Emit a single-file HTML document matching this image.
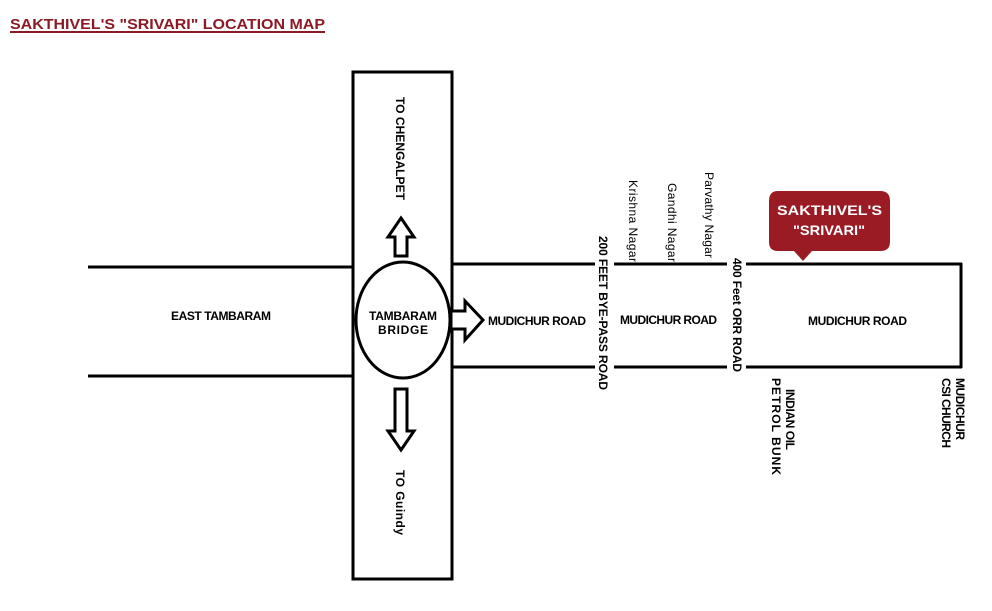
<!DOCTYPE html>
<html><head><meta charset="utf-8"><style>
html,body{margin:0;padding:0;background:#fff;}
svg{display:block;font-family:"Liberation Sans",Arial,sans-serif;font-weight:bold;}
</style></head><body>
<svg width="992" height="611" viewBox="0 0 992 611" xmlns="http://www.w3.org/2000/svg">
<rect width="992" height="611" fill="#fff"/>
<text x="10" y="29" font-size="15" fill="#8b1a26" textLength="315" lengthAdjust="spacingAndGlyphs">SAKTHIVEL'S "SRIVARI" LOCATION MAP</text>
<line x1="10" y1="32" x2="325" y2="32" stroke="#8b1a26" stroke-width="2"/>
<g stroke="#000" stroke-width="3" fill="none">
<rect x="353" y="72" width="99" height="507"/>
<line x1="88" y1="267" x2="353" y2="267"/>
<line x1="88" y1="376" x2="353" y2="376"/>
<line x1="453" y1="264" x2="595" y2="264"/>
<line x1="614" y1="264" x2="727" y2="264"/>
<line x1="746" y1="264" x2="962" y2="264"/>
<line x1="453" y1="367" x2="595" y2="367"/>
<line x1="614" y1="367" x2="727" y2="367"/>
<line x1="746" y1="367" x2="962" y2="367"/>
<line x1="961" y1="263" x2="961" y2="368"/>
</g>
<ellipse cx="403" cy="320" rx="47" ry="58" fill="#fff" stroke="#000" stroke-width="3"/>
<g fill="#fff" stroke="#000" stroke-width="3" stroke-linejoin="miter">
<polygon points="401,218 414,237 407,237 407,256 395,256 395,237 388,237"/>
<polygon points="401,450 414,431 407,431 407,389 395,389 395,431 388,431"/>
<polygon points="483,320 465,301 465,311 451,311 451,329 465,329 465,340"/>
</g>
<g font-size="12" text-anchor="start" lengthAdjust="spacingAndGlyphs">
<text x="369" y="320" textLength="68">TAMBARAM</text>
<text x="378" y="334" textLength="50">BRIDGE</text>
<text x="171" y="320" textLength="100">EAST TAMBARAM</text>
<text x="488" y="325" textLength="98">MUDICHUR ROAD</text>
<text x="620" y="324" textLength="97">MUDICHUR ROAD</text>
<text x="808" y="325" textLength="99">MUDICHUR ROAD</text>
</g>
<g font-size="12" lengthAdjust="spacingAndGlyphs">
<text transform="translate(396,97) rotate(90)" textLength="103">TO CHENGALPET</text>
<text transform="translate(396,470) rotate(90)" textLength="65">TO Guindy</text>
<text transform="translate(599,236) rotate(90)" textLength="154">200 FEET BYE-PASS ROAD</text>
<text transform="translate(733,258) rotate(90)" textLength="114">400 Feet ORR ROAD</text>
<text transform="translate(629,180) rotate(90)" font-weight="normal" textLength="82">Krishna Nagar</text>
<text transform="translate(668,183) rotate(90)" font-weight="normal" textLength="79">Gandhi Nagar</text>
<text transform="translate(705,172) rotate(90)" font-weight="normal" textLength="86">Parvathy Nagar</text>
<text transform="translate(786,389) rotate(90)" textLength="61">INDIAN OIL</text>
<text transform="translate(772,378) rotate(90)" textLength="97">PETROL BUNK</text>
<text transform="translate(956,378) rotate(90)" textLength="62">MUDICHUR</text>
<text transform="translate(942,378) rotate(90)" textLength="70">CSI CHURCH</text>
</g>
<path d="M778,191 H880 Q890,191 890,201 V242 Q890,251 880,251 H812 L803,261 L794,251 H778 Q769,251 769,242 V201 Q769,191 778,191 Z" fill="#9b1b25"/>
<text x="777" y="215" font-size="14" fill="#fff" textLength="105" lengthAdjust="spacingAndGlyphs">SAKTHIVEL'S</text>
<text x="793" y="235" font-size="14" fill="#fff" textLength="72" lengthAdjust="spacingAndGlyphs">"SRIVARI"</text>
</svg>
</body></html>
